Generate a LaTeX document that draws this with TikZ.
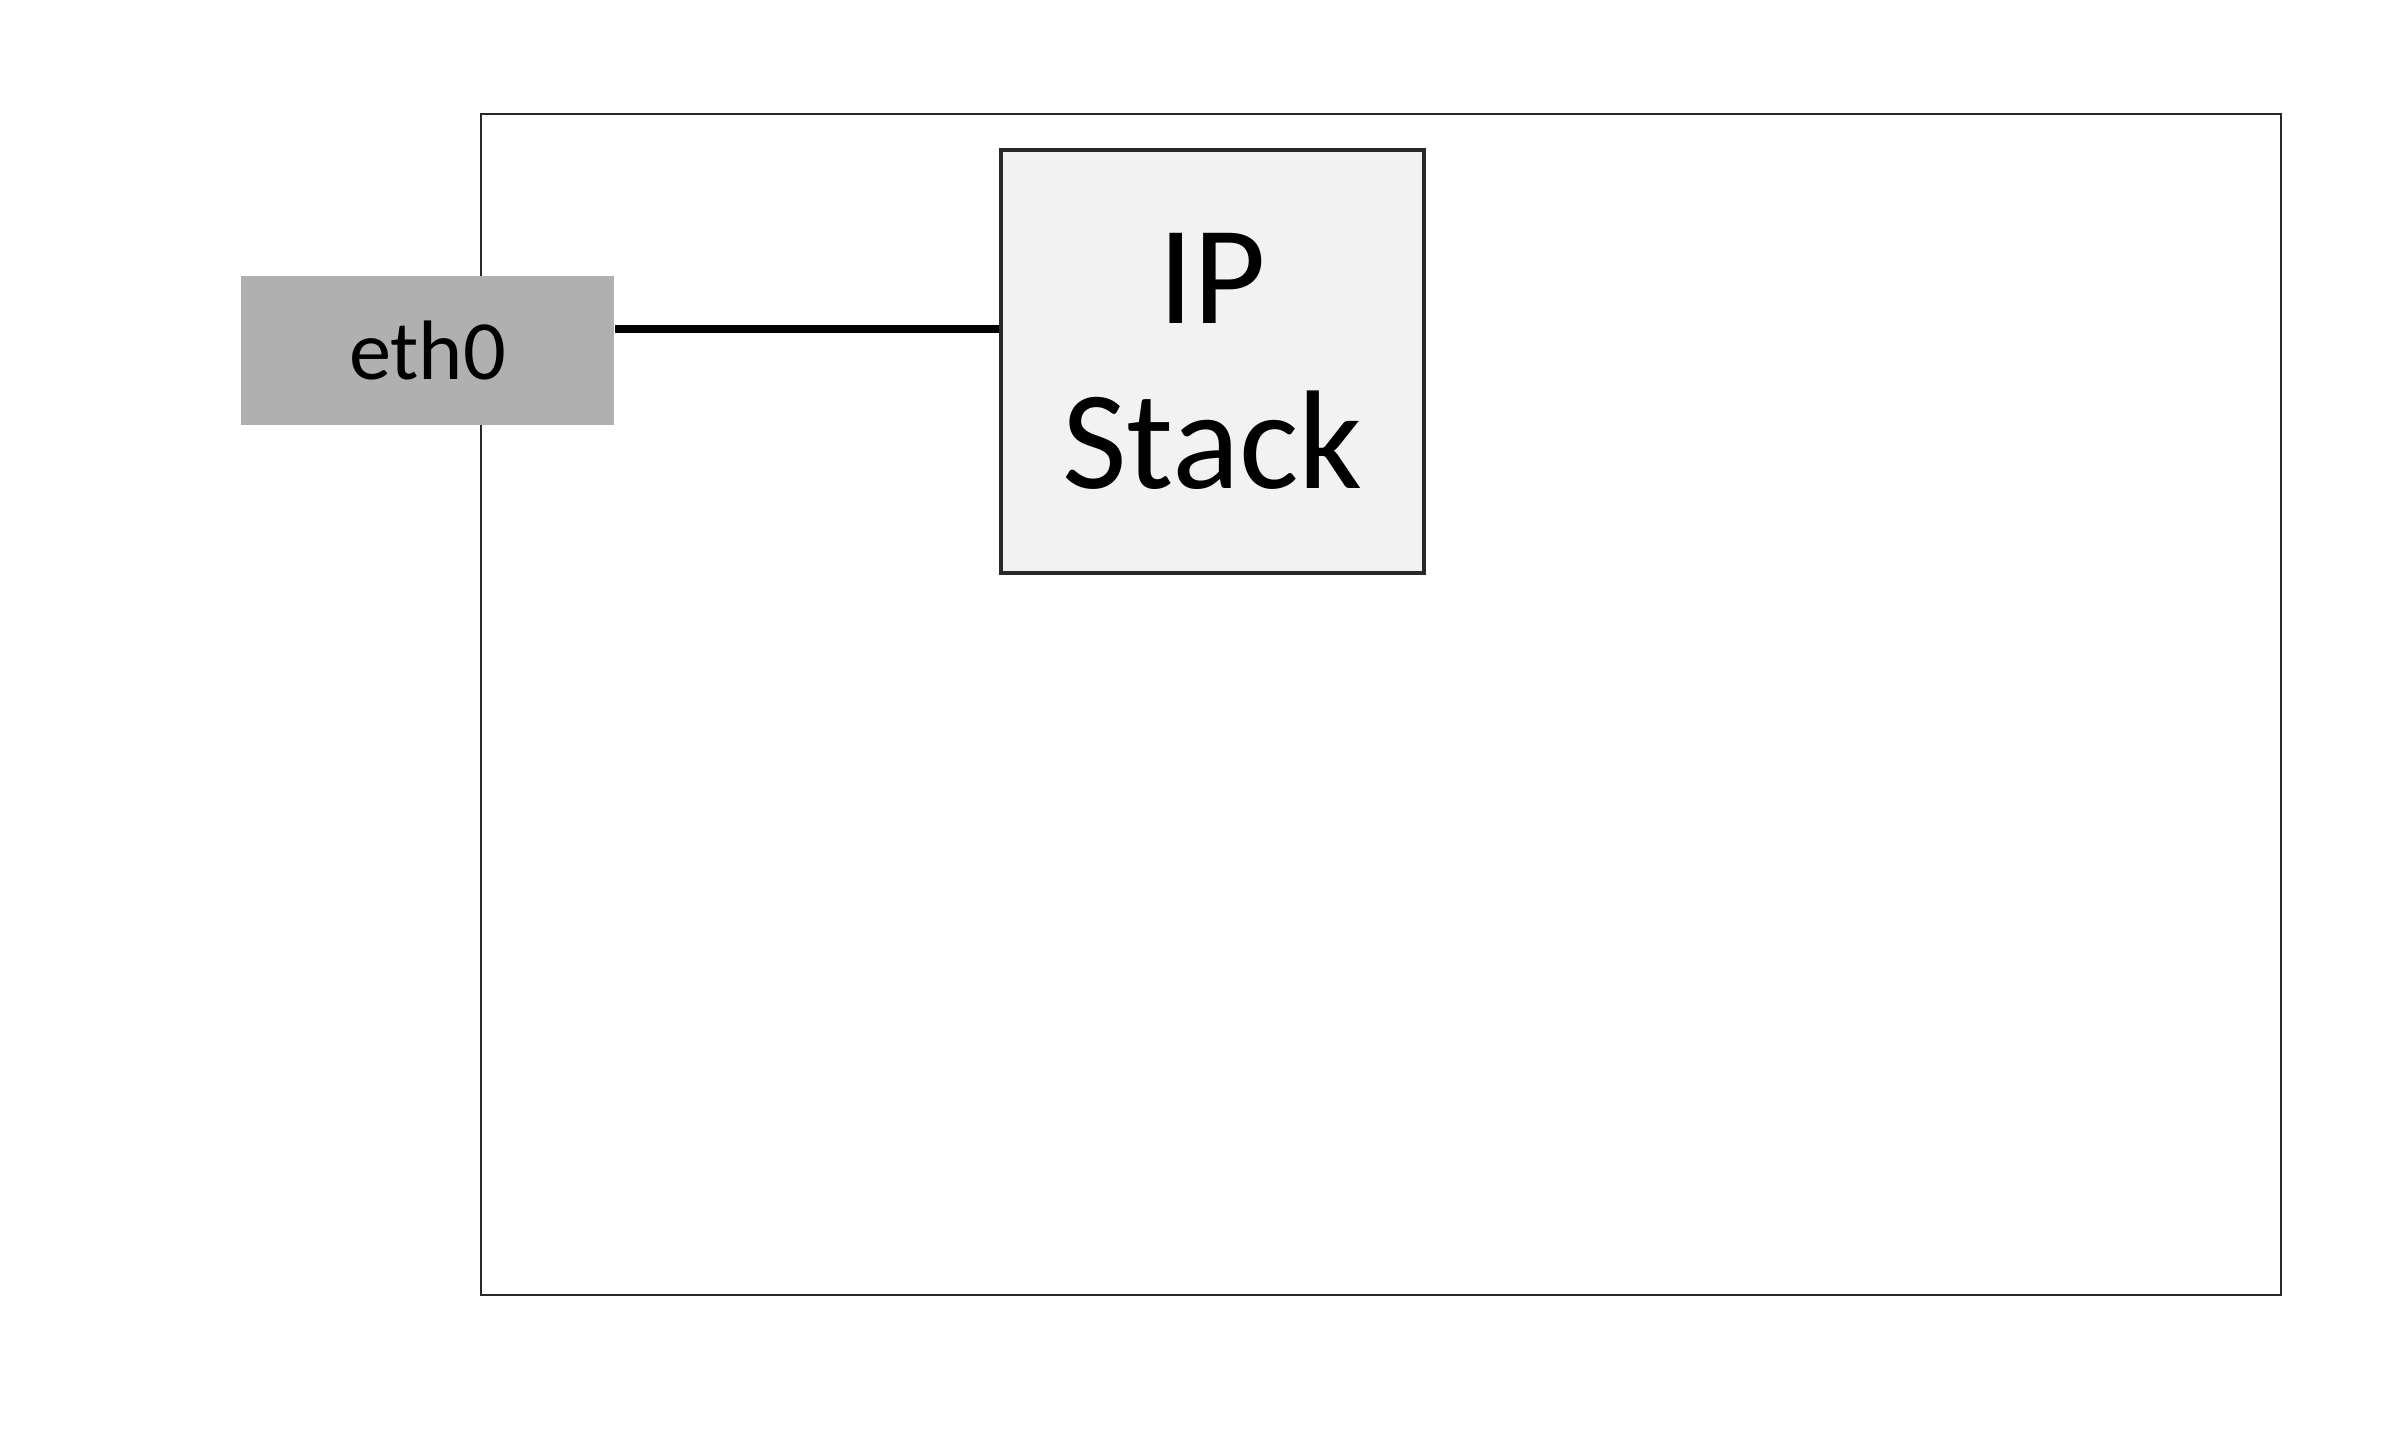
\documentclass[tikz,border=0pt]{standalone}
\usepackage{fontspec}
\setmainfont{Carlito}
\definecolor{ethgray}{RGB}{176,176,176}
\definecolor{stackfill}{RGB}{242,242,242}
\definecolor{boxline}{RGB}{40,40,40}
\usetikzlibrary{positioning,calc}

\begin{document}
\begin{tikzpicture}
  \useasboundingbox (0,0) rectangle (24.08,14.42);

  % Host box
  \node[draw=boxline, line width=0.6pt, minimum width=18.0cm, minimum height=11.81cm, inner sep=0pt] (host) at (13.81,7.375) {};

  % Interface
  \node[fill=ethgray, minimum width=3.73cm, minimum height=1.49cm, inner sep=0pt, font=\fontsize{24}{28}\selectfont] (eth0) at (4.275,10.915) {eth0};

  % IP stack
  \node[draw=boxline, fill=stackfill, line width=0.9pt, minimum width=4.23cm, minimum height=4.23cm, inner sep=0pt, font=\fontsize{40}{47}\selectfont, align=center] (ipstack) at (12.125,10.805) {IP\\Stack};

  % Link
  \coordinate (link) at ([yshift=0.215cm]eth0.east);
  \draw[line width=2pt] (link) -- (link -| ipstack.west);
\end{tikzpicture}
\end{document}
